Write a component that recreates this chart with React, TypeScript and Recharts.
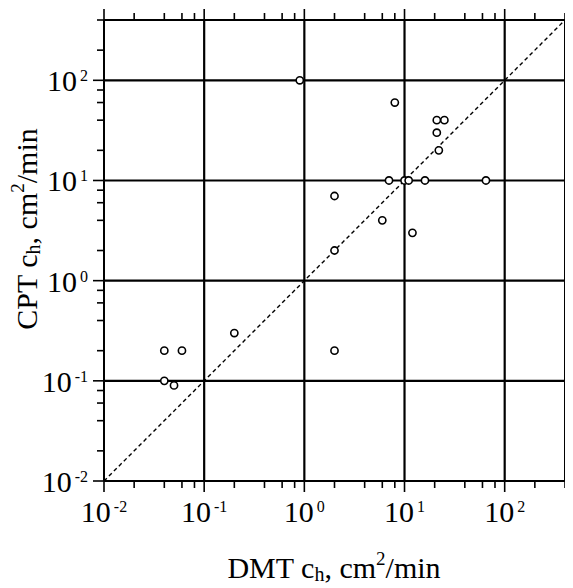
import { ScatterChart, Scatter, XAxis, YAxis, ReferenceLine } from "recharts";

// DMT vs CPT horizontal coefficient of consolidation, cm^2/min
const DMT_CH = [0.9, 8, 21, 25, 21, 22, 7, 10, 11, 16, 65, 2, 6, 12, 2, 0.2, 2, 0.04, 0.06, 0.04, 0.05];
const CPT_CH = [100, 60, 40, 40, 30, 20, 10, 10, 10, 10, 10, 7, 4, 3, 2, 0.3, 0.2, 0.2, 0.2, 0.1, 0.09];

const DOMAIN: [number, number] = [0.01, 400];
const DECADES = [0.01, 0.1, 1, 10, 100];
const AXIS_TICKS = [
  0.01, 0.02, 0.04, 0.06, 0.08, 0.1, 0.2, 0.4, 0.6, 0.8, 1, 2, 4, 6, 8, 10, 20, 40, 60, 80, 100, 200, 400,
];

const data = DMT_CH.map((x, i) => ({ x, y: CPT_CH[i] }));

const FONT = "Liberation Serif";

const isMajor = (v: number) => Math.abs(Math.log10(v) - Math.round(Math.log10(v))) < 1e-6;
const expo = (v: number) => String(Math.round(Math.log10(v)));

type TickProps = { x?: number; y?: number; payload?: { value: number }; side: string; label?: boolean };

const Tick = ({ x = 0, y = 0, payload, side, label }: TickProps) => {
  const v = payload ? payload.value : 1;
  const major = isMajor(v);
  const len = major ? 11 : 7;
  let line;
  if (side === "bottom") line = <line x1={x} x2={x} y1={y} y2={y + len} />;
  else if (side === "top") line = <line x1={x} x2={x} y1={y} y2={y - len} />;
  else if (side === "left") line = <line x1={x - len} x2={x} y1={y} y2={y} />;
  else line = <line x1={x} x2={x + len} y1={y} y2={y} />;
  return (
    <g stroke="#000" strokeWidth={1.6}>
      {line}
      {label && major && side === "bottom" && (
        <text x={x} y={y + 41} textAnchor="middle" fontFamily={FONT} fontSize={30} fill="#000" stroke="none">
          10
          <tspan dx={3} dy={-10} fontSize={16}>
            {expo(v)}
          </tspan>
        </text>
      )}
      {label && major && side === "left" && (
        <text x={x - 16} y={y + 11} textAnchor="end" fontFamily={FONT} fontSize={30} fill="#000" stroke="none">
          10
          <tspan dx={3} dy={-10} fontSize={16}>
            {expo(v)}
          </tspan>
        </text>
      )}
    </g>
  );
};

const Dot = (p: { cx?: number; cy?: number }) => (
  <circle cx={p.cx} cy={p.cy} r={3.6} fill="#fff" stroke="#000" strokeWidth={1.6} />
);

const XTitle = () => (
  <text x={326} y={570} textAnchor="middle" fontFamily={FONT} fontSize={30} fill="#000">
    DMT c
    <tspan fontSize={20} dy={3}>h</tspan>
    <tspan dy={-3}>, cm</tspan>
    <tspan fontSize={19} dy={-13}>2</tspan>
    <tspan dy={13}>/min</tspan>
  </text>
);

const YTitle = () => (
  <text
    x={0}
    y={0}
    transform="translate(29, 221) rotate(-90)"
    textAnchor="middle"
    fontFamily={FONT}
    fontSize={30}
    fill="#000"
  >
    CPT c
    <tspan fontSize={20} dy={3}>h</tspan>
    <tspan dy={-3}>, cm</tspan>
    <tspan fontSize={19} dy={-13}>2</tspan>
    <tspan dy={13}>/min</tspan>
  </text>
);

export default function App() {
  return (
    <div style={{ width: 565, height: 580 }}>
      <ScatterChart width={565} height={580} margin={{ top: 4, right: 0, bottom: 47, left: 36 }}>
        <XAxis
          xAxisId="b"
          dataKey="x"
          type="number"
          scale="log"
          domain={DOMAIN}
          allowDataOverflow
          ticks={AXIS_TICKS}
          interval={0}
          height={60}
          tickSize={0}
          tickMargin={0}
          tickLine={false}
          axisLine={{ stroke: "#000", strokeWidth: 2 }}
          tick={(p: any) => <Tick {...p} side="bottom" label />}
          label={{ content: () => <XTitle /> }}
        />
        <XAxis
          xAxisId="t"
          orientation="top"
          dataKey="x"
          type="number"
          scale="log"
          domain={DOMAIN}
          allowDataOverflow
          ticks={AXIS_TICKS}
          interval={0}
          height={8}
          tickSize={0}
          tickMargin={0}
          tickLine={false}
          axisLine={{ stroke: "#000", strokeWidth: 2 }}
          tick={(p: any) => <Tick {...p} side="top" />}
        />
        <YAxis
          yAxisId="l"
          dataKey="y"
          type="number"
          scale="log"
          domain={DOMAIN}
          allowDataOverflow
          ticks={AXIS_TICKS}
          interval={0}
          width={60}
          tickSize={0}
          tickMargin={0}
          tickLine={false}
          axisLine={{ stroke: "#000", strokeWidth: 2 }}
          tick={(p: any) => <Tick {...p} side="left" label />}
          label={{ content: () => <YTitle /> }}
        />
        <YAxis
          yAxisId="r"
          orientation="right"
          dataKey="y"
          type="number"
          scale="log"
          domain={DOMAIN}
          allowDataOverflow
          ticks={AXIS_TICKS}
          interval={0}
          width={8}
          tickSize={0}
          tickMargin={0}
          tickLine={false}
          axisLine={{ stroke: "#000", strokeWidth: 2 }}
          tick={(p: any) => <Tick {...p} side="right" />}
        />
        {DECADES.slice(1).map((v) => (
          <ReferenceLine key={"gx" + v} xAxisId="b" yAxisId="l" x={v} stroke="#000" strokeWidth={2.2} />
        ))}
        {DECADES.slice(1).map((v) => (
          <ReferenceLine key={"gy" + v} xAxisId="b" yAxisId="l" y={v} stroke="#000" strokeWidth={2.2} />
        ))}
        <ReferenceLine
          xAxisId="b"
          yAxisId="l"
          segment={[
            { x: DOMAIN[0], y: DOMAIN[0] },
            { x: DOMAIN[1], y: DOMAIN[1] },
          ]}
          stroke="#000"
          strokeWidth={1.4}
          strokeDasharray="4 3"
        />
        <Scatter
          xAxisId="b"
          yAxisId="l"
          data={data}
          shape={(p: any) => <Dot {...p} />}
          isAnimationActive={false}
        />
      </ScatterChart>
    </div>
  );
}
